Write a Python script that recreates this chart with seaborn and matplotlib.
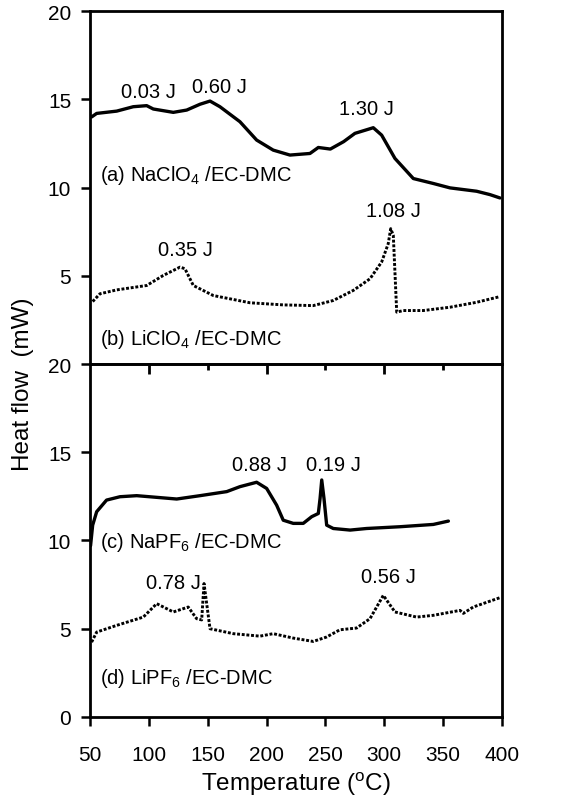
import pandas as pd
import matplotlib
matplotlib.use('Agg')
import matplotlib.pyplot as plt
import seaborn as sns

# --- data (temperature in degC, heat flow in mW) ---
a_temp = [51.4, 55.7, 72.7, 86.8, 98.2, 103.8, 120.8, 132.2, 143.5, 152.0, 160.4, 177.4,
          191.6, 205.7, 219.9, 236.9, 244.0, 254.2, 265.5, 275.1, 290.7, 297.8, 309.1,
          324.7, 341.7, 355.9, 378.5, 389.8, 398.3]
a_flow = [14.0, 14.2, 14.33, 14.58, 14.64, 14.45, 14.26, 14.39, 14.72, 14.9, 14.58, 13.73,
          12.69, 12.12, 11.84, 11.93, 12.27, 12.18, 12.6, 13.07, 13.39, 12.97, 11.65,
          10.51, 10.23, 9.98, 9.79, 9.6, 9.41]

b_temp = [52.3, 58.5, 72.7, 98.2, 112.3, 126.5, 130.7, 137.8, 154.8, 186.0, 214.2, 239.7,
          256.7, 273.7, 287.9, 297.8, 303.4, 305.5, 307.7, 310.6, 316.2, 333.2, 356.0,
          378.6, 398.3]
b_flow = [3.54, 3.98, 4.2, 4.45, 5.02, 5.49, 5.4, 4.45, 3.88, 3.47, 3.35, 3.31,
          3.6, 4.17, 4.83, 5.78, 6.82, 7.67, 7.29, 2.94, 3.03, 3.03, 3.22,
          3.5, 3.82]

c_temp = [50.5, 52.3, 55.7, 64.1, 75.5, 89.7, 123.7, 143.5, 166.2, 177.4, 191.6, 200.1,
          208.6, 214.2, 222.7, 231.2, 238.4, 244.0, 245.5, 246.9, 248.8, 251.1, 256.7,
          271.0, 285.0, 313.4, 341.7, 354.5]
c_flow = [9.7, 10.87, 11.63, 12.29, 12.48, 12.54, 12.35, 12.54, 12.77, 13.05, 13.3, 12.95,
          12.0, 11.15, 10.97, 10.97, 11.35, 11.53, 12.39, 13.43, 12.39, 10.87, 10.68,
          10.59, 10.68, 10.78, 10.91, 11.1]

d_temp = [51.4, 55.7, 72.7, 95.3, 106.7, 120.8, 133.5, 140.6, 144.9, 146.9, 148.6, 152.0,
          171.8, 194.4, 205.7, 222.7, 239.7, 251.0, 262.3, 276.5, 287.9, 299.2, 309.1,
          327.5, 341.7, 364.4, 367.2, 375.6, 398.3]
d_flow = [4.24, 4.81, 5.19, 5.66, 6.42, 5.95, 6.23, 5.57, 5.5, 7.56, 6.7, 5.0,
          4.72, 4.58, 4.72, 4.47, 4.28, 4.53, 4.94, 5.04, 5.57, 6.89, 5.95,
          5.66, 5.76, 6.04, 5.87, 6.23, 6.76]

top_notes = [('0.03 J', 100, 15.45), ('0.60 J', 160.4, 15.72), ('1.30 J', 285, 14.49),
             ('0.35 J', 130.7, 6.5), ('1.08 J', 307.7, 8.71)]
bot_notes = [('0.88 J', 193.8, 14.32), ('0.19 J', 256.7, 14.28),
             ('0.78 J', 120.8, 7.6), ('0.56 J', 303.4, 7.94)]
top_labels = [('(a) NaClO$_4$ /EC-DMC', 10.76), ('(b) LiClO$_4$ /EC-DMC', 1.46)]
bot_labels = [('(c) NaPF$_6$ /EC-DMC', 9.96), ('(d) LiPF$_6$ /EC-DMC', 2.25)]

x_ticks = [50, 100, 150, 200, 250, 300, 350, 400]
mid_long = [100, 200, 300]
mid_short = [150, 250, 350]

# --- style ---
sns.set_style('ticks')
plt.rcParams['font.family'] = ['Liberation Sans', 'DejaVu Sans']
plt.rcParams['mathtext.default'] = 'regular'
plt.rcParams['text.color'] = 'black'
plt.rcParams['axes.labelcolor'] = 'black'

fig = plt.figure(figsize=(5.73, 8.04), dpi=100)
ax_top = fig.add_axes([0.157, 0.546, 0.719, 0.439])
ax_bot = fig.add_axes([0.157, 0.107, 0.719, 0.439])

sol = dict(color='black', linewidth=2.4, linestyle='-')
dot = dict(color='black', linewidth=2.1, linestyle=(0, (1, 0.6)))

sns.lineplot(x=a_temp, y=a_flow, ax=ax_top, sort=False, **sol)
sns.lineplot(x=b_temp, y=b_flow, ax=ax_top, sort=False, **dot)
sns.lineplot(x=c_temp, y=c_flow, ax=ax_bot, sort=False, **sol)
sns.lineplot(x=d_temp, y=d_flow, ax=ax_bot, sort=False, **dot)

for ax in (ax_top, ax_bot):
    ax.set_xlim(50, 400)
    ax.set_ylim(0, 20)
    for s in ax.spines.values():
        s.set_linewidth(2.0)
        s.set_color('black')
    ax.tick_params(axis='both', direction='out', length=6.5, width=1.8,
                   labelsize=15, colors='black')
    ax.tick_params(axis='y', pad=7)
    ax.tick_params(axis='x', pad=14)
    ax.set_xlabel('')
    ax.set_ylabel('')

ax_top.set_yticks([5, 10, 15, 20])
ax_top.set_xticks([])
ax_bot.set_yticks([0, 5, 10, 15, 20])
ax_bot.set_xticks(x_ticks)
ax_bot.set_xticklabels([str(t) for t in x_ticks])

# ticks on the shared border, pointing down into the lower panel
sec = ax_bot.secondary_xaxis('top')
sec.set_xticks(mid_long)
sec.set_xticks(mid_short, minor=True)
sec.tick_params(which='major', direction='in', length=7, width=2.0,
                labeltop=False, colors='black')
sec.tick_params(which='minor', direction='in', length=4.5, width=2.0, colors='black')
sec.spines['top'].set_linewidth(2.0)

for txt, x, y in top_notes:
    ax_top.text(x, y, txt, ha='center', va='center', fontsize=14.5)
for txt, x, y in bot_notes:
    ax_bot.text(x, y, txt, ha='center', va='center', fontsize=14.5)
for txt, y in top_labels:
    ax_top.text(58.5, y, txt, ha='left', va='center', fontsize=14.5)
for txt, y in bot_labels:
    ax_bot.text(58.5, y, txt, ha='left', va='center', fontsize=14.5)

ax_bot.set_xlabel('Temperature ($^{o}$C)', fontsize=17.5, labelpad=4)
fig.text(0.04, 0.522, 'Heat flow  (mW)', rotation=90, ha='center', va='center',
         fontsize=17.5)

fig.savefig('out.png', dpi=100)
